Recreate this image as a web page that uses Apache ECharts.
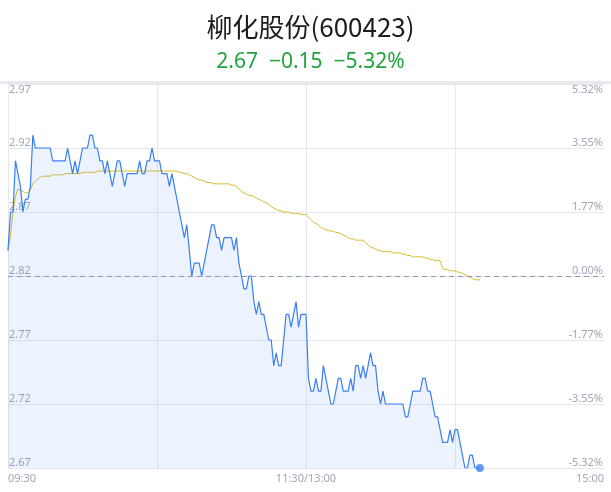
<!DOCTYPE html>
<html><head><meta charset="utf-8">
<script src="https://cdn.jsdelivr.net/npm/echarts@6/dist/echarts.min.js"></script>
<style>html,body{margin:0;padding:0;background:#fff}#c{width:611px;height:492px}</style>
</head><body><div id="c"></div>
<script>
const stockName = '柳化股份(600423)';
const quoteText = '2.67  −0.15  −5.32%';
const prevClose = 2.82;
const priceMin = 2.67, priceMax = 2.97, priceStep = 0.05;
const pctMax = 5.32;
const timeLabels = {0: '09:30', 120: '11:30/13:00', 240: '15:00'};

const prices = [
 2.84,2.87,2.87,2.91,2.90,2.89,2.87,2.88,2.88,2.89,
 2.93,2.92,2.92,2.92,2.92,2.92,2.92,2.92,2.91,2.91,
 2.91,2.91,2.91,2.91,2.92,2.91,2.90,2.91,2.90,2.91,
 2.92,2.92,2.92,2.93,2.93,2.92,2.92,2.91,2.91,2.90,
 2.91,2.90,2.89,2.90,2.91,2.91,2.90,2.89,2.90,2.90,
 2.90,2.90,2.90,2.91,2.90,2.90,2.91,2.91,2.92,2.91,
 2.91,2.91,2.90,2.90,2.90,2.89,2.90,2.89,2.88,2.87,
 2.86,2.85,2.86,2.84,2.82,2.83,2.83,2.83,2.82,2.83,
 2.84,2.85,2.86,2.86,2.85,2.85,2.84,2.85,2.85,2.85,
 2.85,2.84,2.85,2.83,2.82,2.81,2.81,2.82,2.82,2.80,
 2.79,2.80,2.79,2.79,2.78,2.77,2.77,2.75,2.76,2.75,
 2.75,2.77,2.79,2.79,2.78,2.79,2.80,2.78,2.79,2.79,
 2.79,2.74,2.73,2.73,2.74,2.73,2.73,2.75,2.74,2.73,
 2.72,2.72,2.73,2.74,2.74,2.73,2.73,2.73,2.74,2.73,
 2.75,2.75,2.74,2.75,2.74,2.75,2.76,2.75,2.75,2.73,
 2.72,2.73,2.72,2.72,2.72,2.72,2.72,2.72,2.72,2.72,
 2.71,2.71,2.72,2.73,2.73,2.73,2.73,2.74,2.74,2.73,
 2.73,2.72,2.71,2.71,2.70,2.69,2.69,2.69,2.70,2.69,
 2.70,2.70,2.69,2.68,2.67,2.67,2.68,2.68,2.67,2.67,
 2.67
];
const avgPrices = [
 2.840,2.852,2.870,2.882,2.888,2.887,2.886,2.885,2.885,2.887,
 2.892,2.894,2.896,2.897,2.898,2.898,2.898,2.898,2.899,2.899,
 2.899,2.899,2.899,2.900,2.900,2.900,2.900,2.900,2.900,2.900,
 2.901,2.901,2.901,2.901,2.901,2.901,2.902,2.902,2.902,2.902,
 2.902,2.902,2.902,2.902,2.902,2.902,2.902,2.902,2.902,2.902,
 2.902,2.902,2.902,2.902,2.902,2.902,2.902,2.902,2.902,2.902,
 2.902,2.902,2.902,2.902,2.902,2.902,2.902,2.902,2.902,2.901,
 2.901,2.900,2.900,2.899,2.898,2.897,2.896,2.895,2.895,2.894,
 2.893,2.893,2.893,2.892,2.892,2.892,2.892,2.892,2.892,2.892,
 2.891,2.891,2.890,2.888,2.886,2.885,2.884,2.883,2.883,2.882,
 2.881,2.880,2.879,2.878,2.877,2.876,2.874,2.873,2.872,2.871,
 2.871,2.870,2.870,2.870,2.869,2.869,2.869,2.869,2.868,2.868,
 2.868,2.866,2.864,2.862,2.861,2.860,2.858,2.857,2.856,2.856,
 2.855,2.855,2.854,2.854,2.853,2.852,2.851,2.850,2.849,2.849,
 2.848,2.848,2.848,2.848,2.846,2.844,2.843,2.842,2.841,2.840,
 2.840,2.839,2.839,2.839,2.839,2.838,2.838,2.838,2.838,2.837,
 2.837,2.836,2.836,2.835,2.835,2.835,2.835,2.835,2.834,2.834,
 2.833,2.833,2.832,2.832,2.832,2.826,2.825,2.825,2.824,2.824,
 2.824,2.823,2.823,2.822,2.821,2.820,2.819,2.818,2.817,2.817,
 2.817
];

// 241 minute slots: 09:30-11:30 and 13:01-15:00
const minutes = [];
for (let i = 0; i <= 240; i++) {
  let t = i <= 120 ? 9 * 60 + 30 + i : 13 * 60 + (i - 120);
  const h = Math.floor(t / 60), m = t % 60;
  minutes.push((h < 10 ? '0' : '') + h + ':' + (m < 10 ? '0' : '') + m);
}

const gridColor = '#e6e8ef';
const labelColor = '#a2a6b5';
const lineBlue = '#3a7ff0';

const chart = echarts.init(document.getElementById('c'));
chart.setOption({
  animation: false,
  title: [
    { text: stockName, left: 305.5, top: 9, textAlign: 'center',
      textStyle: { fontSize: 26, fontWeight: 'normal', color: '#1c1c1e', fontFamily: 'Noto Sans CJK SC' } },
    { text: quoteText, left: 305.5, top: 47, textAlign: 'center',
      textStyle: { fontSize: 21, fontWeight: 'normal', color: '#1fa53c', fontFamily: 'Noto Sans' } }
  ],
  graphic: [
    { type: 'rect', left: 0, top: 81, shape: { width: 611, height: 3 }, style: { fill: '#e8e8ed' }, z: 0 }
  ],
  grid: { left: 8, right: 7, top: 84, bottom: 24 },
  xAxis: {
    type: 'category', data: minutes, boundaryGap: false,
    axisLine: { show: false }, axisTick: { show: false },
    axisLabel: {
      interval: (i) => timeLabels[i] !== undefined,
      formatter: (v, i) => timeLabels[i] || '',
      color: labelColor, fontSize: 11, margin: 5, fontFamily: 'Noto Sans',
      alignMinLabel: 'left', alignMaxLabel: 'right'
    },
    splitLine: { show: true, interval: (i) => i % 60 === 0 && i < 240, lineStyle: { color: gridColor, width: 1 } }
  },
  yAxis: [
    { type: 'value', min: priceMin, max: priceMax, interval: priceStep, position: 'left',
      axisLine: { show: false }, axisTick: { show: false },
      axisLabel: { inside: true, margin: 1, color: labelColor, fontSize: 11, fontFamily: 'Noto Sans',
        verticalAlign: 'bottom', verticalAlignMaxLabel: 'top',
        formatter: (v) => v.toFixed(2) },
      splitLine: { lineStyle: { color: gridColor, width: 1 } } },
    { type: 'value', min: -pctMax, max: pctMax, interval: pctMax / 3, position: 'right',
      axisLine: { show: false }, axisTick: { show: false },
      axisLabel: { inside: true, margin: 1, color: labelColor, fontSize: 11, fontFamily: 'Noto Sans',
        verticalAlign: 'bottom', verticalAlignMaxLabel: 'top',
        formatter: (v) => (Math.abs(v) < 1e-6 ? '0.00' : v.toFixed(2)) + '%' },
      splitLine: { show: false } }
  ],
  series: [
    { type: 'line', data: prices, symbol: 'none', smooth: false,
      lineStyle: { color: lineBlue, width: 1.2 },
      areaStyle: { color: 'rgba(58,127,240,0.13)', origin: 'start' },
      markLine: { silent: true, symbol: 'none', label: { show: false },
        lineStyle: { type: [5, 4], color: '#8f98b2', width: 1 },
        data: [{ yAxis: prevClose }] },
      z: 3 },
    { type: 'line', data: avgPrices, symbol: 'none',
      lineStyle: { color: '#d6bb28', width: 1 }, z: 2 },
    { type: 'scatter', data: [[prices.length - 1, prices[prices.length - 1]]],
      symbolSize: 8, itemStyle: { color: lineBlue }, z: 5 }
  ]
});
</script></body></html>
